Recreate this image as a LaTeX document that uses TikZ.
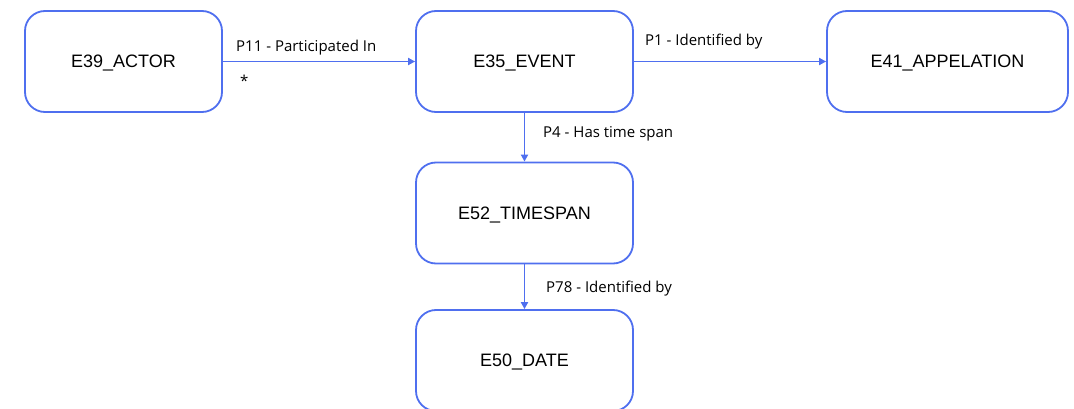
\documentclass[tikz,border=0pt]{standalone}
\usepackage{fontspec}
\setmainfont{Liberation Sans}
\newfontfamily\edgefont{Open Sans}
\usetikzlibrary{arrows.meta}
\definecolor{bl}{HTML}{4F6FEF}
\tikzset{
  ent/.style={draw=bl, line width=1.8pt, rounded corners=20pt, fill=white,
    font=\fontsize{18}{21}\selectfont, inner sep=0pt, text height=12.9pt, text depth=0pt},
  rel/.style={draw=bl, line width=1.8pt, -{Triangle[length=7pt,width=7pt]}},
  lbl/.style={font=\edgefont\fontsize{15}{17}\selectfont, anchor=west, inner sep=0pt}
}
\begin{document}
\begin{tikzpicture}[x=1pt,y=-1pt]
\useasboundingbox (0,0) rectangle (1074,409);
\node[ent, minimum width=197pt, minimum height=101pt] (actor) at (123.5,61.5) {E39\_ACTOR};
\node[ent, minimum width=217pt, minimum height=101pt] (event) at (524.5,61.5) {E35\_EVENT};
\node[ent, minimum width=241pt, minimum height=101pt] (appel) at (947.5,61.5) {E41\_APPELATION};
\node[ent, minimum width=217pt, minimum height=101pt] (tspan) at (524.5,213) {E52\_TIMESPAN};
\node[ent, minimum width=217pt, minimum height=101pt] (date) at (524.5,360.5) {E50\_DATE};
\draw[rel] (actor.east) -- (event.west);
\draw[rel] (event.east) -- (appel.west);
\draw[rel] (event.south) -- (tspan.north);
\draw[rel] (tspan.south) -- (date.north);
\node[lbl] (l1) at (236,48) {P11 - Participated In};
\node[lbl] (star) at (240,81) {*};
\node[lbl] (l2) at (645,42) {P1 - Identified by};
\node[lbl] (l3) at (543,134) {P4 - Has time span};
\node[lbl] (l4) at (546,289) {P78 - Identified by};
\end{tikzpicture}
\end{document}
